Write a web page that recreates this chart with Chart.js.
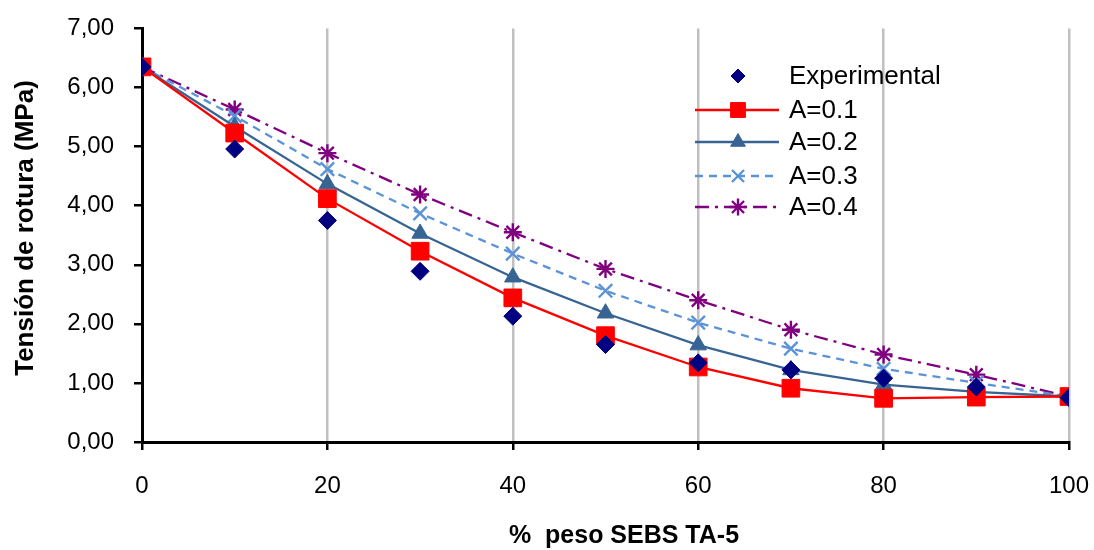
<!DOCTYPE html>
<html>
<head>
<meta charset="utf-8">
<script src="https://cdn.jsdelivr.net/npm/chart.js@4.4.1/dist/chart.umd.min.js"></script>
<style>
  html, body { margin: 0; padding: 0; background: #fff; }
  #wrap { width: 1094px; height: 550px; position: relative; }
</style>
</head>
<body>
<div id="wrap"><canvas id="chart" width="1094" height="550"></canvas></div>
<script>
const xValues = [0, 10, 20, 30, 40, 50, 60, 70, 80, 90, 100];
const experimental = [6.35, 4.96, 3.75, 2.89, 2.13, 1.65, 1.34, 1.22, 1.08, 0.93, 0.75];
const a01 = [6.35, 5.23, 4.12, 3.23, 2.44, 1.80, 1.27, 0.91, 0.74, 0.76, 0.77];
const a02 = [6.35, 5.34, 4.37, 3.53, 2.79, 2.18, 1.64, 1.22, 0.97, 0.85, 0.77];
const a03 = [6.35, 5.52, 4.62, 3.87, 3.19, 2.56, 2.02, 1.58, 1.24, 1.00, 0.77];
const a04 = [6.35, 5.63, 4.89, 4.19, 3.55, 2.93, 2.40, 1.90, 1.48, 1.14, 0.77];

const seriesLabels = ["Experimental", "A=0.1", "A=0.2", "A=0.3", "A=0.4"];
const xTitle = "%  peso SEBS TA-5";
const yTitle = "Tensión de rotura (MPa)";

const FONT = "'Liberation Sans', Arial, sans-serif";

function pts(arr) {
    return arr.map((v, i) => ({ x: xValues[i], y: v }));
}

const styles = [
    { color: "#000080", line: false, dash: [], point: "rectRot", r: 9, lr: 7, bw: 1 },
    { color: "#FF0000", line: true, dash: [], point: "rect", r: 12.5, lr: 10.5, bw: 1 },
    { color: "#386494", line: true, dash: [], point: "triangle", r: 9.5, lr: 8.5, bw: 1 },
    { color: "#5B93D8", line: true, dash: [8, 6], point: "crossRot", r: 9.5, lr: 8.5, bw: 2.4 },
    { color: "#800080", line: true, dash: [14, 6, 3, 6], point: "star", r: 9, lr: 8.5, bw: 2.4 }
];
const allSeries = [experimental, a01, a02, a03, a04];

const datasets = allSeries.map((arr, i) => ({
    label: seriesLabels[i],
    data: pts(arr),
    showLine: styles[i].line,
    borderColor: styles[i].color,
    backgroundColor: styles[i].color,
    borderWidth: 2.3,
    borderDash: styles[i].dash,
    pointStyle: styles[i].point,
    pointRadius: styles[i].r,
    pointBorderWidth: styles[i].bw,
    pointHoverRadius: styles[i].r,
    tension: 0
}));

// legend and axis titles drawn by hand, placed like the original
const extras = {
    id: "extras",
    afterDatasetsDraw(chart) {
        const ctx = chart.ctx;
        const rows = [76, 110, 142, 176, 207];
        ctx.save();
        ctx.font = "26px " + FONT;
        ctx.textBaseline = "middle";
        rows.forEach((y, i) => {
            const s = styles[i];
            if (s.line) {
                ctx.beginPath();
                ctx.strokeStyle = s.color;
                ctx.lineWidth = 2.3;
                ctx.setLineDash(s.dash);
                ctx.moveTo(695, y);
                ctx.lineTo(779, y);
                ctx.stroke();
                ctx.setLineDash([]);
            }
            ctx.fillStyle = s.color;
            ctx.strokeStyle = s.color;
            ctx.lineWidth = s.bw;
            Chart.helpers.drawPoint(ctx, { pointStyle: s.point, radius: s.lr, rotation: 0, borderWidth: s.bw }, 738, y);
            ctx.fillStyle = "#000";
            ctx.fillText(seriesLabels[i], 789, y + 1);
        });

        ctx.fillStyle = "#000";
        ctx.textAlign = "center";
        ctx.textBaseline = "alphabetic";
        ctx.font = "bold 25px " + FONT;
        ctx.fillText(xTitle, 624, 543);

        ctx.translate(33, 228);
        ctx.rotate(-Math.PI / 2);
        ctx.font = "bold 26px " + FONT;
        ctx.fillText(yTitle, 0, 0);
        ctx.restore();
    }
};

new Chart(document.getElementById("chart"), {
    type: "scatter",
    data: { datasets },
    plugins: [extras],
    options: {
        responsive: false,
        animation: false,
        layout: { padding: { top: 28.5, right: 25, left: 0, bottom: 0 } },
        plugins: {
            legend: { display: false },
            tooltip: { enabled: false }
        },
        scales: {
            x: {
                type: "linear",
                min: 0,
                max: 100,
                ticks: { stepSize: 20, color: "#000", font: { family: FONT, size: 24 }, padding: 22 },
                grid: { color: "#C0C0C0", lineWidth: 2.5, tickColor: "#000", tickLength: 8, drawTicks: true },
                border: { color: "#000", width: 3 },
                afterFit(scale) {
                    scale.height = 108;
                    scale.paddingLeft = 0;
                    scale.paddingRight = 0;
                }
            },
            y: {
                min: 0,
                max: 7,
                ticks: {
                    stepSize: 1,
                    color: "#000",
                    font: { family: FONT, size: 24 },
                    padding: 20,
                    callback: v => v.toFixed(2).replace(".", ",")
                },
                grid: { drawOnChartArea: false, color: "#000", lineWidth: 2.5, tickLength: 8 },
                border: { color: "#000", width: 3 },
                afterFit(scale) {
                    scale.width = 142;
                    scale.paddingTop = 0;
                    scale.paddingBottom = 0;
                }
            }
        }
    }
});
</script>
</body>
</html>
